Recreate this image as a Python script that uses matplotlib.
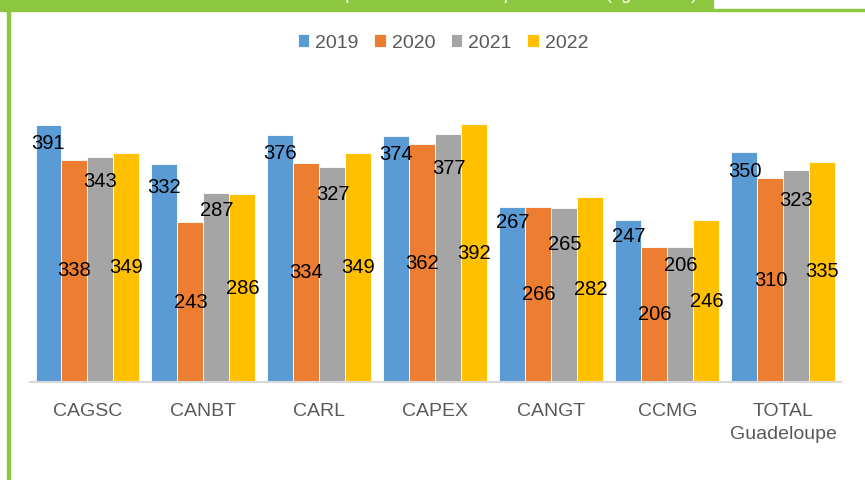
import matplotlib
matplotlib.use("Agg")
import matplotlib.pyplot as plt
import numpy as np
from matplotlib.patches import Rectangle

# --- data -------------------------------------------------------------------
categories = ["CAGSC", "CANBT", "CARL", "CAPEX", "CANGT", "CCMG", "TOTAL\nGuadeloupe"]
years = ["2019", "2020", "2021", "2022"]
v2019 = [391, 332, 376, 374, 267, 247, 350]
v2020 = [338, 243, 334, 362, 266, 206, 310]
v2021 = [343, 287, 327, 377, 265, 206, 323]
v2022 = [349, 286, 349, 392, 282, 246, 335]

colors = ["#5B9BD5", "#ED7D31", "#A5A5A5", "#FFC000"]
GREEN = "#8DC63F"
GREY_TXT = "#595959"

# label placement (pixels below bar top) for the "inside end" series
drop_2019 = [18, 24, 18, 18, 16, 17, 19]
drop_2021 = [25, 17, 27, 34, 37, 19, 31]

plt.rcParams["font.family"] = ["Liberation Sans", "DejaVu Sans"]

W, H = 865, 480
fig = plt.figure(figsize=(W / 100, H / 100), dpi=100)

# header band + frame lines
fig.patches.append(Rectangle((0, 1 - 11 / H), 713 / W, 11 / H, transform=fig.transFigure,
                             color=GREEN, zorder=0))
fig.patches.append(Rectangle((713 / W, 1 - 11 / H), 1 - 713 / W, 2 / H, transform=fig.transFigure,
                             color=GREEN, zorder=0))
fig.patches.append(Rectangle((7 / W, 0), 3 / W, 1 - 11 / H, transform=fig.transFigure,
                             color=GREEN, zorder=0))
# title, cut off by the top edge as in the source
fig.text(697 / W, 1 + 1.2 / H, "Ratios de production de DMA par territoire (kg/hab/an)",
         color="white", fontsize=13, ha="right", va="baseline")

ax = fig.add_axes([29.5 / W, 98 / H, 812 / W, 295.6 / H])
x = np.arange(len(categories))
w = 26 / 116
series = [v2019, v2020, v2021, v2022]

for i, (vals, c, yr) in enumerate(zip(series, colors, years)):
    xs = x + (i - 1.5) * w
    bars = ax.bar(xs, vals, w, color=c, edgecolor="white", linewidth=0.6, label=yr, zorder=2)
    for j, b in enumerate(bars):
        cx = b.get_x() + b.get_width() / 2
        v = vals[j]
        if i in (1, 3):
            ax.text(cx, v / 2, str(v), ha="center", va="center", fontsize=14.5,
                    color="black", zorder=3)
        else:
            d = (drop_2019 if i == 0 else drop_2021)[j]
            ax.annotate(str(v), (cx, v), xytext=(0, -d * 0.72), textcoords="offset points",
                        ha="center", va="center", fontsize=14.5, color="black", zorder=3)

ax.set_xlim(-0.5, len(categories) - 0.5)
ax.set_ylim(0, 450)
ax.set_yticks([])
ax.set_xticks(x)
ax.set_xticklabels(categories, fontsize=14, color=GREY_TXT, linespacing=1.5)
ax.tick_params(axis="x", length=0, pad=15)
for s in ["top", "left", "right"]:
    ax.spines[s].set_visible(False)
ax.spines["bottom"].set_color("#D9D9D9")
ax.spines["bottom"].set_linewidth(1.5)

handles, labels = ax.get_legend_handles_labels()
leg = fig.legend(handles, labels, loc="center", bbox_to_anchor=(443 / W, 1 - 43 / H), ncol=4,
                 frameon=False, fontsize=14, handlelength=0.6, handleheight=0.6,
                 handletextpad=0.3, columnspacing=0.8, borderaxespad=0)
for t in leg.get_texts():
    t.set_color(GREY_TXT)

fig.savefig("out.png", dpi=100)
